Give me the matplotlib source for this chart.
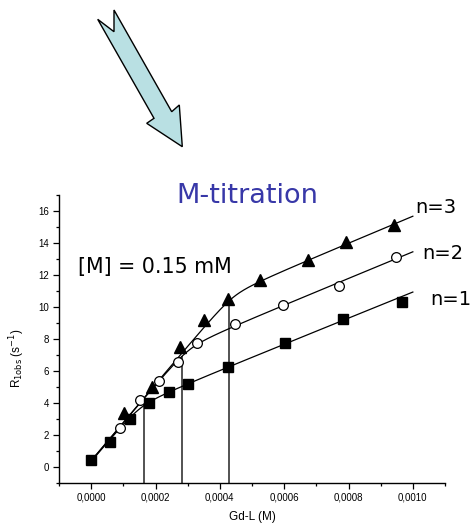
import numpy as np
import matplotlib
matplotlib.use("Agg")
import matplotlib.pyplot as plt
from matplotlib.patches import Polygon
from matplotlib.ticker import FuncFormatter, MultipleLocator

# ---- data ----
x_n1 = [0.0, 0.00006, 0.000122, 0.000181, 0.000243, 0.000301, 0.000424, 0.000603, 0.000783, 0.000967]
y_n1 = [0.42, 1.56, 2.96, 3.96, 4.69, 5.17, 6.25, 7.77, 9.23, 10.3]

x_n2 = [0.000091, 0.000151, 0.000211, 0.00027, 0.000329, 0.000448, 0.000595, 0.000771, 0.000948]
y_n2 = [2.4, 4.17, 5.38, 6.54, 7.71, 8.92, 10.1, 11.29, 13.09]

x_n3 = [0.000101, 0.000189, 0.000277, 0.000352, 0.000424, 0.000526, 0.000673, 0.000793, 0.00094]
y_n3 = [3.34, 5.0, 7.5, 9.17, 10.52, 11.71, 12.92, 14.06, 15.15]

# fit model parameters (two straight regimes joined smoothly)
fit_y0 = [0.4, 0.4, 0.4]
fit_s1 = [24000, 24000, 24000]
fit_a2 = [2.80, 5.16, 7.29]
fit_s2 = [8140, 8300, 8400]
fit_xend = [0.001, 0.001, 0.001]
equiv_x = [0.000165, 0.000283, 0.00043]
series_labels = ["n=1", "n=2", "n=3"]

x_ticks = [0.0, 0.0002, 0.0004, 0.0006, 0.0008, 0.0010]
y_ticks = [0, 2, 4, 6, 8, 10, 12, 14, 16]


def fit(x, i, d=0.8):
    a = fit_y0[i] + fit_s1[i] * x
    b = fit_a2[i] + fit_s2[i] * x
    return (a + b - np.sqrt((a - b) ** 2 + d ** 2)) / 2


W, H = 471, 523
fig = plt.figure(figsize=(W / 100, H / 100), dpi=100)
ax = fig.add_axes([59 / W, 1 - 482.7 / H, (445 - 59) / W, (482.7 - 195) / H])

tick_font = "Liberation Sans"

# fit curves
for i in range(3):
    xs = np.linspace(0, fit_xend[i], 300)
    ax.plot(xs, fit(xs, i), color="black", lw=0.9, zorder=2)

# equivalence drop lines
for i in range(3):
    ax.vlines(equiv_x[i], -1, fit(equiv_x[i], i), color="#444444", lw=1.3, zorder=1)

ms = 7
ax.plot(x_n3, y_n3, linestyle="none", marker="^", ms=ms + 1, color="black", zorder=3)
ax.plot(x_n2, y_n2, linestyle="none", marker="o", ms=ms, mfc="white", mec="black", mew=0.9, zorder=3)
ax.plot(x_n1, y_n1, linestyle="none", marker="s", ms=ms, color="black", zorder=4)

ax.set_xlim(-0.0001, 0.0011)
ax.set_ylim(-1, 17)
ax.set_xticks(x_ticks)
ax.set_yticks(y_ticks)
ax.xaxis.set_minor_locator(MultipleLocator(0.0001))
ax.yaxis.set_minor_locator(MultipleLocator(1))
ax.xaxis.set_major_formatter(FuncFormatter(lambda v, p: f"{v:.4f}".replace(".", ",")))
ax.yaxis.set_major_formatter(FuncFormatter(lambda v, p: f"{v:.0f}"))
for s in ["top", "right"]:
    ax.spines[s].set_visible(False)
for s in ["left", "bottom"]:
    ax.spines[s].set_linewidth(1.0)
ax.tick_params(which="major", direction="out", length=4, width=0.9, labelsize=7, pad=3)
ax.tick_params(which="minor", direction="out", length=2.5, width=0.9)
for lab in ax.get_xticklabels() + ax.get_yticklabels():
    lab.set_fontfamily(tick_font)

ax.set_xlabel("Gd-L (M)", fontsize=8.5, fontfamily=tick_font)
ax.xaxis.set_label_coords(0.5, -0.1)
ax.set_ylabel(r"R$_{\rm 1obs}$ (s$^{-1}$)", fontsize=8.5, fontfamily=tick_font)
ax.yaxis.set_label_coords(-0.083, 0.433)

# annotations
fig.text(247 / W, 1 - 203 / H, "M-titration", color="#3838a8", fontsize=19.5,
         ha="center", va="baseline", family="DejaVu Sans")
fig.text(78 / W, 1 - 273.3 / H, "[M] = 0.15 mM", color="black", fontsize=14.8,
         ha="left", va="baseline", family="DejaVu Sans")
for lab, (xp, yp) in zip(series_labels, [(430, 305), (422, 259.3), (415, 212.7)]):
    fig.text(xp / W, 1 - yp / H, lab, fontsize=14, ha="left", va="baseline", family="DejaVu Sans")

# decorative arrow
arrow_px = [(97.7, 19.3), (114, 31.7), (114, 10), (171.7, 111.7), (179.3, 105),
            (182.3, 146.7), (146.7, 123.3), (154, 118.3)]
arrow = Polygon([(x / W, 1 - y / H) for x, y in arrow_px], closed=True,
                transform=fig.transFigure, facecolor="#b9e0e3", edgecolor="black", lw=1.0)
fig.patches.append(arrow)

fig.savefig("out.png", dpi=100)
